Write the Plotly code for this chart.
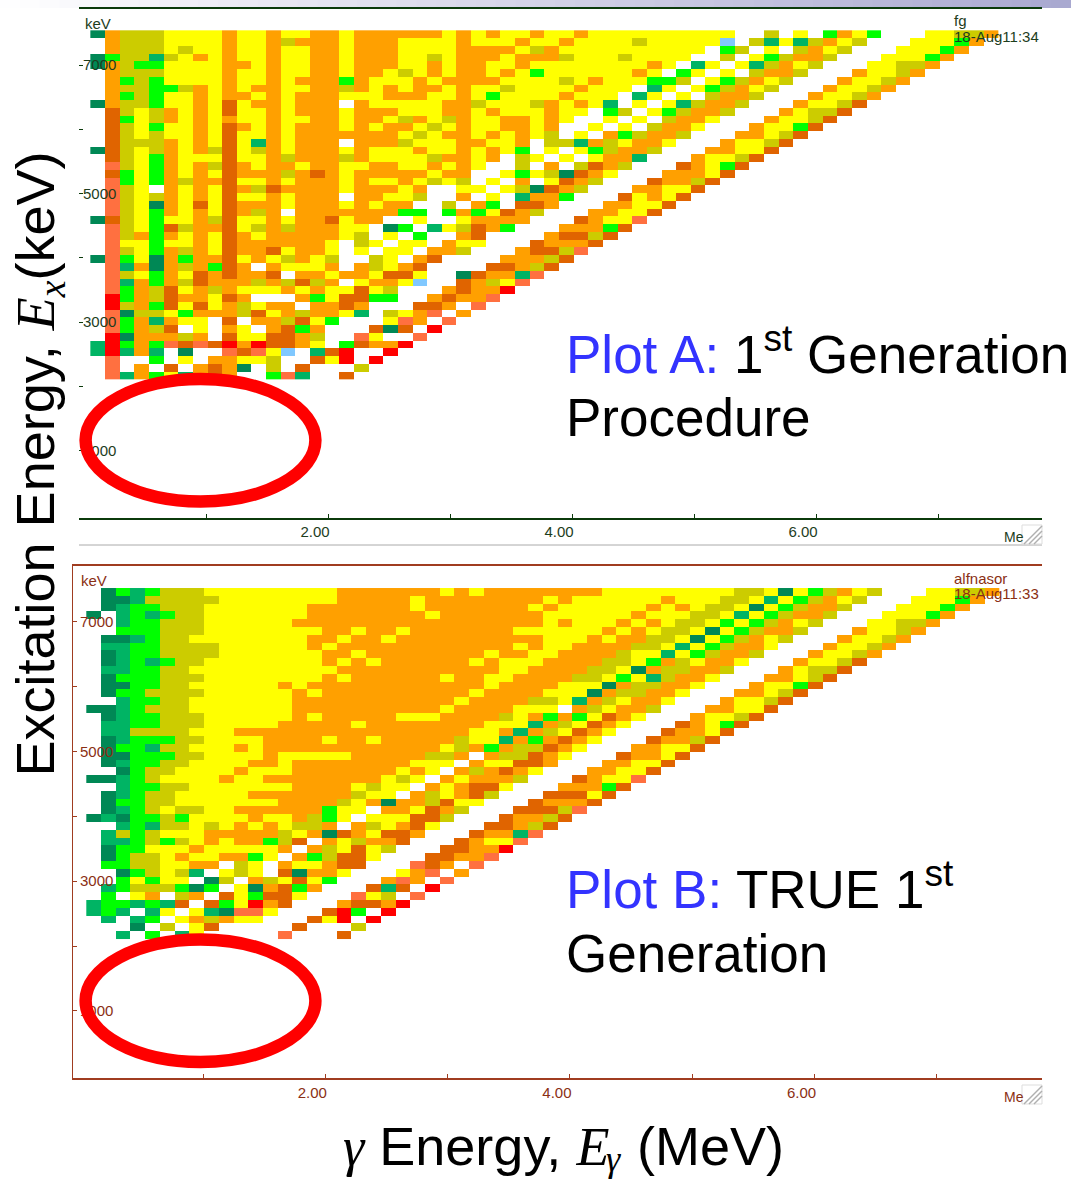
import plotly.graph_objects as go

W, H = 1071, 1179

# colour class of every cell: character -> colour
CLASS_CHARS = [".", "c", "d", "e", "g", "o", "y", "a", "b", "s", "r"]
CLASS_COLORS = ["#ffffff", "#80c8ff", "#008855", "#00b464", "#00ff00", "#cccc00",
                "#ffff00", "#ffa000", "#e06400", "#ff7040", "#ff0000"]

# Plot A, top row first, one character per 120 keV bin ("left|right" = two halves of a row)
PLOT_A_ROWS = [
    "daoooyyyyayyayyaayaaaaaayayayya|yyayyyyyyyyyy..o.y.gayg...yyooa",
    ".aoooyyyyayyaoaaayaaayyyyayyyay|yayyyyoyyyyyc.oeyeoayo...yyyga.",
    ".aoooyoyyayyayyaayaaayyyyaaaayo|ayyyyyyyyyy.go.y.oayo...yyyga..",
    "dgooeoyayayyayyaayaaayyoyaaayaa|aoyyyoyyyy..o.ygoaao...yyyga...",
    "daoggyyyyaayayyaayaaayyayaayyay|yyyyyyyay.ey.yeoayo...yyooa....",
    ".aoooyyyyayyayyaayaayoyayaayayg|yyyyyyay.gy.y.oaao...ayyoa.....",
    ".agogyyyyayyayaaagayyyayaaaayyy|yoyayyyggo.ygoayo...ayyoa......",
    ".aooggoayayaayyaaoayayaayayyoyy|yyayyy.ey.ygoayo...ayyoa.......",
    ".agogyyayaayayaaayyyaaayyaygyyy|yayyy.ey.y.oaao...ayyoa........",
    "daoogyyaybyaayaaa.ayyyyyaaoyyyo|ayaye.y.yeoaao...ayyob.........",
    ".boyoayaybyyayaaayaaayyyaayayyy|ayy.go.ygoaao...ayoob..........",
    ".bgyoayayayyayyaayaayoayoayyaay|ay..y.y.oaay...ayyob...........",
    ".boygyyaybayayaaayayaayoyayyaay|a..y.y.oaay...ayygb............",
    ".boyoyyaybyyayaaaaaaayoyaayayay|o.y.agoaao...aayob.............",
    ".boooayaybyeayaaa.aaaoyyyaayya.|ooeaoyaay...ayyob..............",
    "dboyoayaobyoayaaayayyyayyayayg.|y.ygoaao...aayyb...............",
    ".boygayyybyyaoaaaoayyyyoaaya.oy|.y.yaae...ayyob................",
    ".soygayaobayaayaayyaayyayay..o.|a.obao...baygb.................",
    ".bgygayaybaaaoabayaaaaayaa..ygy|odbay...aaayb..................",
    ".sgygaoaabyyayaaayayyayoyo.y.a.|ybao...baaob...................",
    ".soy.ayaybaobaaaayaaaya..yy.yod|bao...aayyb....................",
    ".soyoayaybyyayaaa.aayyo..a.y.ea|ag...byayb.....................",
    ".soydaybybaaayaaayayaa..o.ag.bb|a...aayyb......................",
    ".soygayaybaoa.aaaaaaagg.gagybao|...aayyb.......................",
    "dboygyyaobyyayaabyaa..y..yaaaa.|..bayys",
    ".soygboaabyoaoaaayy.dg.eyobag..|.aaagb",
    ".soagayaybayaaaaayo.y.g..ab....|abbob",
    ".syygyyaybaaaaaay.oy.yy.ayy...b|aaab",
    ".soygaoaybaabyaay.y.yy.aao...ab|bos",
    "dsgydagaabyayoayo..oy.ab....aaa|ob",
    ".seadaoagba.ayyya.aoyab....bbao|b",
    ".soygaybabaab.aayaaybby..dbaaes",
    ".seagaobaaaoaoboa.yaayc..baoys.",
    ".sgaobyaoayyyayayybyo...abaar..",
    ".rgaobaayba...agybbgg..abaas...",
    ".roagbybyaoyaa.aaba...bba.s....",
    ".sdooygaaaobyaoaaye.oyas.a.....",
    ".sgaeayy.b.aaobyg...ysa.s......",
    ".sgaob.y.ay.abga...bdb.r.......",
    ".rdaaaoa.byybbao..sy..s........",
    "ergagsbsbrarbbay.gbaar.........",
    "ereae.d..sbsyc.ebr..r..........",
    ".s..g.y.aayyo..byr.r...........",
    ".s.a.b.abad.o.b...o............",
    ".seagyeaba..gse..b.............",
]

# Plot B, same encoding
PLOT_B_ROWS = [
    ".dgegoooyyyyyyyyyaaaaaaayayaaaa|aaaayyyyyyyyyooydygoayo...yyooa",
    ".ddeoooooyyyyyyyyaaaaayaaaaaaaa|yayyyyyyayyyooyeygoayo...yyyga.",
    ".deggoooyyyyyyyaaaaaaayaaaaaaay|ayyyyyyayayooydygoaao...yyyga..",
    "d.egegooyyyyyyyaaaaaaaayaaaaaaa|yyyyyyayyyooyeygoaao...yyyga...",
    "..eggoooyyyyyyaaaaaaaaaaaaaaaaa|yayyyayayooygygoayo...yyooa....",
    "..gggoooyyyyyyyyaayaayaaaaaaayy|yyyyayayooydygoaao...ayyoa.....",
    ".ddegooyyyyyyyyaayaayaaaaaaaaaa|yyyayaaooydygoayo...ayyoa......",
    ".eeggooooyyyyyyayaaaaaaaaaaaaya|yyaaaaooyeygoaay...ayyoa.......",
    ".deggooooyyyyyyyaayaaaaaaaayaay|yaaaaoyyeygoaao...ayyoa........",
    ".degegooyyyyyyyyayayaaaaaayayyy|aaaaooygaoyaay...ayyob.........",
    ".eeggooyyyyyyyyyyaaaaaaaaaaayya|aaaooydaooaao...ayoob..........",
    ".dgggoooyyyyyyyyayaaaaaayaayyaa|aaooygyeoaay...aayob...........",
    ".ddggooyyyyyyayaaaaaaaaaaaayaaa|ayyydaooaay...ayygb............",
    ".dggooooyyyyyyayaaaaaaaaaayaaaa|yyydaooaay...aayob.............",
    "..eggooyyyyyyyaaaaaaaaaaayaaaao|oyeaoyaay...ayyob..............",
    "ddegoooyyyyyyyaaaaaaaaaayaaaayy|y.aoyaao...aayyb...............",
    ".deggoooyyyyyyayaaaaayyyaaaaoya|gagybay...ayyob................",
    ".eeggoooyyyyyaaaaayaaaaaaaayyye|aoybay...baygb.................",
    ".eeooooyyyaaaaaaaaaaaaaaaayyaea|oybay...baayb..................",
    ".degggooyyyyaaaayaayaaaaaoyyeag|abay...baaob...................",
    ".dggeooyyyayaaaaaaaaaaaayoagaoo|bay...aayyb....................",
    ".ddgggooyyyyayyyyyaaaaaooa.aoob|ay...baayb.....................",
    ".deggooyyyyaayaaaaaaaayyy.ayybb|a...aayyb......................",
    "..dgooyyyyayyyaaaaaaayay.aoabay|...aayyb.......................",
    "ddegoyyyyayyaaaaaaaayoy.ayaaao.|..bayys",
    "..eggooyyyyyyyaaaayoyy.ayabby..|.aaagb",
    ".degooyyyyyaaaaaaaoyy.aoyabo...|bbbyb",
    ".dggooyyyyyyyaaaaoyadaaobyy...b|aaab",
    ".degoyooyyaaaaaagyy.aaybao...bb|bos",
    "dedggogyyyyayyaogy.yyybbo...baa|ob",
    "..egeooyoyayayooa.aoyaby...bbao|b",
    ".eogoyyyaaaaaoyadbaybba...baaes",
    ".eegogoyayaagob.ayoaab...bayys.",
    ".dggyyyayyyyya.aoybyo...bbaar..",
    ".dgooyayyaagy.agobby...bbaas...",
    ".ggooyyaa.oy.ayyabb...sba.s....",
    "..dgoyoe.yoy.bdaay...yas.a.....",
    "..gygyy.do.aoybyg...asa.s......",
    ".egooogdg.ydabga...beb.r.......",
    ".g.ya.oa.bygbby...syo.s........",
    "eggegeb.bgyrab...abbar.........",
    "ege.ey.yedssy...brg.r..........",
    ".e.eg.yaoayy...byr.r...........",
    "...d.o.yb.....b...o............",
    "..e.g.ey.....s...b.............",
]

Y_TICKS = [1000, 3000, 5000, 7000]
Y_LABELS = ["1000", "3000", "5000", "7000"]
Y_MINOR = [2000, 4000, 6000]
X_TICKS = [2, 4, 6]
X_LABELS = ["2.00", "4.00", "6.00"]
X_MINOR = [1, 3, 5, 7]

GREEN = "#1d3d1d"
GREEN_LINE = "#0b3a0b"
BROWN = "#8a2f14"
BROWN_LINE = "#a03c20"
BLUE = "#3333ff"
SANS = "Liberation Sans"
SERIF = "Liberation Serif"


def to_matrix(rows):
    out = []
    for row in rows:
        flat = row.replace("|", "").ljust(62, ".")[:62]
        out.append([CLASS_CHARS.index(ch) for ch in flat])
    return out


n = len(CLASS_COLORS)
scale = []
for i, col in enumerate(CLASS_COLORS):
    scale += [[i / n, col], [(i + 1) / n, col]]


def px(x):
    return x / W


def py(y):
    return 1 - y / H


fig = go.Figure()
fig.add_trace(go.Heatmap(z=to_matrix(PLOT_A_ROWS), x0=0.112, dx=0.12, y0=7479, dy=-120.5,
                         xaxis="x", yaxis="y", colorscale=scale, zmin=-0.5, zmax=n - 0.5,
                         showscale=False, zsmooth=False, hoverinfo="skip"))
fig.add_trace(go.Heatmap(z=to_matrix(PLOT_B_ROWS), x0=0.106, dx=0.1204, y0=7464, dy=-120.4,
                         xaxis="x2", yaxis="y2", colorscale=scale, zmin=-0.5, zmax=n - 0.5,
                         showscale=False, zsmooth=False, hoverinfo="skip"))


def x_axis(domain, rng, line, text, anchor, shift, standoff):
    return dict(domain=domain, range=rng, anchor=anchor, tickvals=X_TICKS, ticktext=X_LABELS,
                ticks="inside", ticklen=4, tickwidth=1, tickcolor=line, showline=True, linecolor=line,
                minor=dict(tickvals=X_MINOR, ticks="inside", ticklen=4, tickwidth=1, tickcolor=line, showgrid=False),
                linewidth=1.5, mirror=True, showgrid=False, zeroline=False, ticklabelshift=shift,
                ticklabelstandoff=standoff, tickfont=dict(family=SANS, size=15, color=text))


def y_axis(domain, rng, line, text, anchor, showline, standoff):
    return dict(domain=domain, range=rng, anchor=anchor, tickvals=Y_TICKS, ticktext=Y_LABELS,
                ticks="inside", ticklen=4, tickwidth=1, tickcolor=line, showline=showline, linecolor=line,
                minor=dict(tickvals=Y_MINOR, ticks="inside", ticklen=4, tickwidth=1, tickcolor=line, showgrid=False),
                linewidth=1, showgrid=False, zeroline=False, ticklabelposition="inside",
                ticklabelstandoff=standoff, tickfont=dict(family=SANS, size=15, color=text))


shapes = []
# slide gradient band along the top
for i in range(54):
    x0 = i * W / 54
    t = (i + 0.5) / 54
    c = [round(255 + (168 - 255) * t), round(255 + (168 - 255) * t), round(255 + (208 - 255) * t)]
    shapes.append(dict(type="rect", xref="paper", yref="paper", x0=px(x0), x1=px(x0 + W / 54) + 0.001,
                       y0=py(8), y1=py(0), line_width=0, fillcolor=f"rgb({c[0]},{c[1]},{c[2]})", layer="below"))
# panel grey line and resize grips
shapes.append(dict(type="line", xref="paper", yref="paper", x0=px(79), x1=px(1042), y0=py(545), y1=py(545),
                   line=dict(color="#aaaaaa", width=1)))
for top in (525, 1085):
    shapes.append(dict(type="rect", xref="paper", yref="paper", x0=px(1022), x1=px(1042), y0=py(top + 19),
                       y1=py(top), line=dict(color="#dddddd", width=1), fillcolor="white"))
    for d in (4, 9, 14):
        shapes.append(dict(type="line", xref="paper", yref="paper", x0=px(1042 - d - 4), x1=px(1042),
                           y0=py(top + 19), y1=py(top + 19 - d - 4 if d < 14 else top + 1),
                           line=dict(color="#b0b0b0", width=1.5)))
# red ellipses
for top, bottom in ((379, 501.5), (939.5, 1062)):
    shapes.append(dict(type="circle", xref="paper", yref="paper", x0=px(85.6), x1=px(315.4), y0=py(bottom),
                       y1=py(top), line=dict(color="#ff0000", width=12.5), layer="above"))


def note(text, x, y, size, color, anchor="left", angle=0):
    return dict(text=text, xref="paper", yref="paper", x=px(x), y=py(y), xanchor=anchor, yanchor="middle",
                showarrow=False, textangle=angle, borderpad=0, borderwidth=0,
                font=dict(family=SANS, size=size, color=color))


def blue(t):
    return f'<span style="color:{BLUE}">{t}</span>'


def serif_i(t):
    return f"<span style=\"font-family:'{SERIF}'\"><i>{t}</i></span>"


annotations = [
    note("keV", 85, 23, 15, GREEN),
    note("fg", 954, 20, 15, GREEN),
    note("18-Aug11:34", 954, 36, 15, GREEN),
    note("Me", 1004, 537, 14, GREEN),
    note("keV", 81, 580, 15, BROWN),
    note("alfnasor", 954, 578, 15, BROWN),
    note("18-Aug11:33", 954, 593, 15, BROWN),
    note("Me", 1004, 1097, 14, BROWN),
    note(blue("Plot A:") + " 1<sup>st</sup> Generation", 566, 351, 53, "black"),
    note("Procedure", 566, 418, 53, "black"),
    note(blue("Plot B:") + " TRUE 1<sup>st</sup>", 566, 885, 53, "black"),
    note("Generation", 566, 953, 53, "black"),
    note("Excitation Energy, " + serif_i("E<sub>x</sub>") + "(keV)", 38, 464.5, 54, "black", "center", -90),
    note(serif_i("γ") + " Energy, " + serif_i("E"), 609, 1146, 54, "black", "right"),
    note(serif_i("γ"), 606, 1159, 36, "black"),
    note("(MeV)", 637, 1146, 54, "black"),
]

fig.update_layout(
    width=W, height=H, autosize=False, margin=dict(l=0, r=0, t=0, b=0),
    paper_bgcolor="white", plot_bgcolor="rgba(0,0,0,0)", showlegend=False,
    font=dict(family=SANS),
    xaxis=x_axis([px(79), px(1042)], [-0.041, 7.852], GREEN_LINE, GREEN, "y", -13, -1),
    yaxis=y_axis([py(518), py(9)], [-45, 7871], GREEN_LINE, GREEN, "x", False, 0),
    xaxis2=x_axis([px(73), px(1042)], [-0.063, 7.860], BROWN_LINE, BROWN, "y2", -13, 0),
    yaxis2=y_axis([py(1078), py(566)], [-37, 7864], BROWN_LINE, BROWN, "x2", True, 3),
    shapes=shapes, annotations=annotations,
)

fig.write_html("out.html", config={"displayModeBar": False},
               post_script="document.body.style.margin='0';document.body.style.overflow='hidden';")
